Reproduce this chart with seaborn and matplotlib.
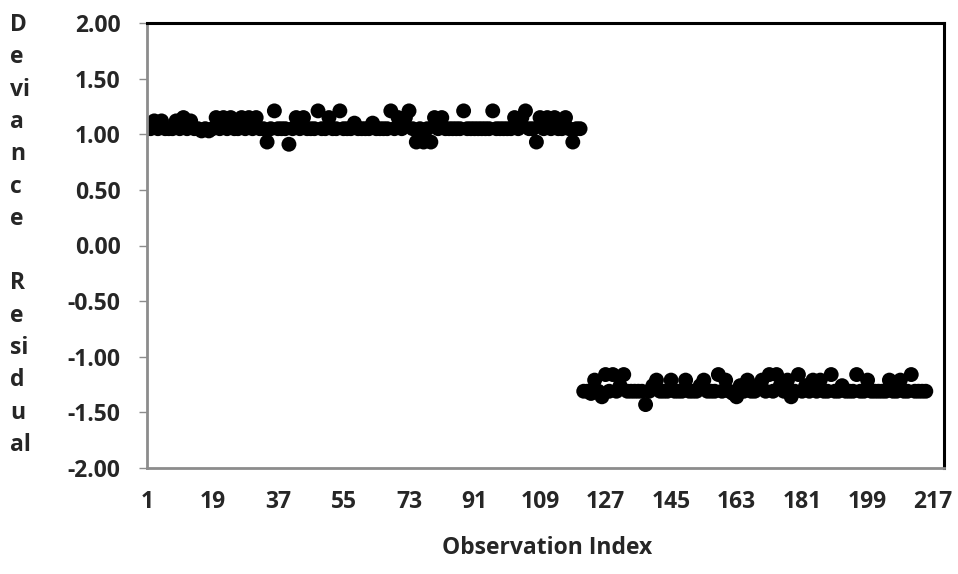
import matplotlib
matplotlib.use("Agg")
import matplotlib.pyplot as plt
import seaborn as sns
import pandas as pd

# ---- data ----
positive_residuals = [
    1.05, 1.05, 1.12, 1.05, 1.12, 1.05, 1.05, 1.05, 1.12, 1.05, 1.15, 1.05, 1.12, 1.05, 1.05, 1.03, 1.05, 1.03, 1.05, 1.15,
    1.05, 1.15, 1.05, 1.15, 1.05, 1.05, 1.15, 1.05, 1.15, 1.05, 1.15, 1.05, 1.05, 0.93, 1.05, 1.21, 1.05, 1.05, 1.05, 0.91,
    1.05, 1.15, 1.05, 1.15, 1.05, 1.05, 1.05, 1.21, 1.05, 1.05, 1.15, 1.05, 1.05, 1.21, 1.05, 1.05, 1.05, 1.10, 1.05, 1.05,
    1.05, 1.05, 1.10, 1.05, 1.05, 1.05, 1.05, 1.21, 1.05, 1.15, 1.05, 1.15, 1.21, 1.05, 0.93, 1.05, 0.93, 1.05, 0.93, 1.15,
    1.05, 1.15, 1.05, 1.05, 1.05, 1.05, 1.05, 1.21, 1.05, 1.05, 1.05, 1.05, 1.05, 1.05, 1.05, 1.21, 1.05, 1.05, 1.05, 1.05,
    1.05, 1.15, 1.05, 1.15, 1.21, 1.05, 1.05, 0.93, 1.15, 1.05, 1.15, 1.05, 1.15, 1.05, 1.05, 1.15, 1.05, 0.93, 1.05, 1.05,
]
negative_residuals = [
    -1.31, -1.31, -1.33, -1.21, -1.31, -1.36, -1.16, -1.31, -1.16, -1.31, -1.26, -1.16, -1.31, -1.31, -1.31, -1.31, -1.31, -1.43, -1.31, -1.26,
    -1.21, -1.31, -1.31, -1.31, -1.21, -1.31, -1.31, -1.31, -1.21, -1.31, -1.31, -1.31, -1.26, -1.21, -1.31, -1.31, -1.31, -1.16, -1.31, -1.21,
    -1.31, -1.33, -1.36, -1.26, -1.31, -1.21, -1.31, -1.31, -1.26, -1.21, -1.31, -1.16, -1.31, -1.16, -1.26, -1.31, -1.21, -1.36, -1.31, -1.16,
    -1.31, -1.26, -1.31, -1.21, -1.31, -1.21, -1.31, -1.31, -1.16, -1.31, -1.31, -1.26, -1.31, -1.31, -1.31, -1.16, -1.31, -1.31, -1.21, -1.31,
    -1.31, -1.31, -1.31, -1.31, -1.21, -1.31, -1.31, -1.21, -1.31, -1.31, -1.16, -1.31, -1.31, -1.31, -1.31,
]
x_ticks = [1, 19, 37, 55, 73, 91, 109, 127, 145, 163, 181, 199, 217]
y_ticks = [-2.0, -1.5, -1.0, -0.5, 0.0, 0.5, 1.0, 1.5, 2.0]
y_label_lines = ["D", "e", "vi", "a", "n", "c", "e", "", "R", "e", "si", "d", "u", "al"]
x_label = "Observation Index"

residuals = positive_residuals + negative_residuals
df = pd.DataFrame({"index": list(range(1, len(residuals) + 1)), "residual": residuals})

sns.set_style("white")
plt.rcParams["font.family"] = ["Open Sans", "DejaVu Sans"]
plt.rcParams["font.weight"] = "bold"

FS = 16.5
W, H = 958, 574
fig = plt.figure(figsize=(W / 100, H / 100), dpi=100)
ax = fig.add_axes([147 / W, 1 - 468 / H, (944 - 147) / W, (468 - 23) / H])

sns.scatterplot(data=df, x="index", y="residual", ax=ax, color="black",
                s=115, edgecolor="none", linewidth=0, legend=False)

ax.set_xlim(1, 220)
ax.set_ylim(-2, 2)
ax.set_xticks(x_ticks)
ax.set_xticklabels([str(t) for t in x_ticks], fontsize=FS, fontweight="bold")
ax.set_yticks(y_ticks)
ax.set_yticklabels([f"{t:.2f}" for t in y_ticks], fontsize=FS, fontweight="bold")
ax.tick_params(axis="x", length=0, pad=16)
ax.tick_params(axis="y", length=6, width=1, color="#8c8c8c", pad=13, left=True)
ax.set_xlabel("")
ax.set_ylabel("")
ax.grid(False)

for side in ["left", "bottom"]:
    ax.spines[side].set_color("#8c8c8c")
    ax.spines[side].set_linewidth(2)
for side in ["top", "right"]:
    ax.spines[side].set_color("black")
    ax.spines[side].set_linewidth(2.2)

fig.text(547 / W, 1 - 548 / H, x_label, ha="center", va="center",
         fontsize=FS, fontweight="bold")

top_y, bot_y = 25, 445
step = (bot_y - top_y) / (len(y_label_lines) - 1)
for i, s in enumerate(y_label_lines):
    if s:
        fig.text(10 / W, 1 - (top_y + i * step) / H, s, ha="left", va="center",
                 fontsize=FS, fontweight="bold")

fig.savefig("out.png", dpi=100)
